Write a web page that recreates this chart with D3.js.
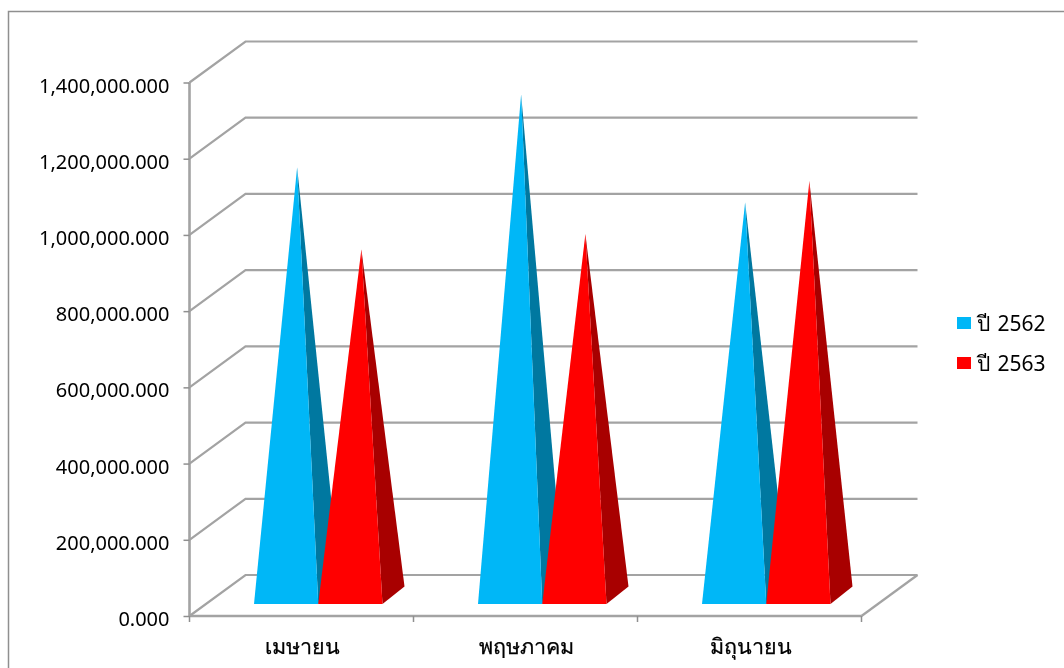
<!DOCTYPE html>
<html><head><meta charset="utf-8">
<script src="https://cdn.jsdelivr.net/npm/d3@7/dist/d3.min.js"></script>
<style>html,body{margin:0;padding:0;background:#fff;overflow:hidden}
svg{filter:blur(0.4px)}
text{font-family:"Noto Sans",Tahoma,sans-serif;fill:#000}</style></head>
<body><svg id="c" width="1064" height="668"></svg>
<script>
const categories=["เมษายน","พฤษภาคม","มิถุนายน"];
const seriesNames=["ปี 2562","ปี 2563"];
const y2562=[1123000,1315000,1031000];
const y2563=[908000,948000,1087000];
const tickValues=[0,200000,400000,600000,800000,1000000,1200000,1400000];
const frontColors=["#00B7F7","#FF0000"];
const sideColors=["#0078A0","#A80000"];
const grid="#a3a3a3";
const depthX=56,depthY=-41;
const svg=d3.select("#c");
svg.append("rect").attr("x",8.5).attr("y",11.5).attr("width",1100).attr("height",700).attr("fill","#fff").attr("stroke","#8f8f8f").attr("stroke-width",1.5);
const x=d3.scaleBand().domain(categories).range([189.5,861.5]);
const y=d3.scaleLinear().domain([0,1400000]).range([616,82.5]);
const gridG=svg.append("g").attr("fill","none").attr("stroke",grid).attr("stroke-width",2.2);
tickValues.forEach(v=>{
  const p=d3.path();p.moveTo(189.5,y(v));p.lineTo(189.5+depthX,y(v)+depthY);p.lineTo(861.5+depthX,y(v)+depthY);
  gridG.append("path").attr("d",p.toString());
});
{const p=d3.path();p.moveTo(861.5,y(0));p.lineTo(861.5+depthX,y(0)+depthY);gridG.append("path").attr("d",p.toString());}
const fmt=d3.format(",.3f");
const yAxis=svg.append("g").attr("transform","translate(189.5,0)").call(d3.axisLeft(y).tickValues(tickValues).tickFormat(fmt).tickSize(6).tickPadding(14));
yAxis.selectAll("text").style("font-size","20px").attr("dy","9.5px");
yAxis.selectAll("line").attr("stroke","#8f8f8f").attr("stroke-width",1.5);
yAxis.select(".domain").attr("stroke",grid).attr("stroke-width",2.6).attr("d",`M0,${y(1400000)}V${y(0)}`);
const xAxis=svg.append("g").attr("transform",`translate(0,${y(0)})`).call(d3.axisBottom(x).tickSize(0).tickPadding(0));
xAxis.select(".domain").attr("stroke",grid).attr("stroke-width",2.6).attr("d","M189.5,0H861.5");
xAxis.selectAll("text").style("font-size","21.5px").style("stroke","#000").style("stroke-width","0.25px").attr("y",30).attr("dy","0.36em").attr("dx",1);
const sep=svg.append("g").attr("stroke","#8f8f8f").attr("stroke-width",1.5);
[...categories.map(c=>x(c)),861.5].forEach(px=>sep.append("line").attr("x1",px).attr("x2",px).attr("y1",y(0)).attr("y2",y(0)+6));
const offX=64.5,bw=64.25,bdx=22,bdy=-17.5,floorLift=12;
const series=[y2562,y2563];
categories.forEach((c,i)=>{
  series.forEach((vals,s)=>{
    const l=x(c)+offX+s*bw,r=l+bw,fy=y(0)-floorLift;
    const ax=(l+r)/2+bdx/2,ay=y(vals[i])-floorLift+bdy/2;
    svg.append("path").attr("fill",sideColors[s]).attr("d",`M${r},${fy}L${r+bdx},${fy+bdy}L${ax},${ay}Z`);
    svg.append("path").attr("fill",frontColors[s]).attr("d",`M${l},${fy}L${r},${fy}L${ax},${ay}Z`);
  });
});
const lg=svg.append("g");
seriesNames.forEach((n,i)=>{
  const ly=323+i*40;
  lg.append("rect").attr("x",957).attr("y",ly-6).attr("width",14).attr("height",12).attr("fill",frontColors[i]);
  lg.append("text").attr("x",977).attr("y",ly).attr("dy","0.36em").style("font-size","21px").style("word-spacing","2px").text(n);
});
</script></body></html>
